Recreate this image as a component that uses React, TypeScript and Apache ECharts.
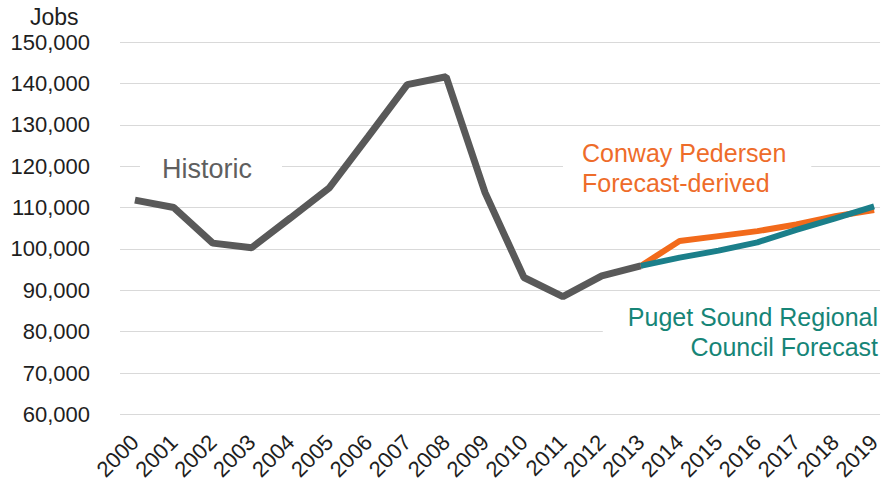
import React, { useEffect, useRef } from "react";
import * as echarts from "echarts";

// Years on the horizontal axis
const years = [
  2000, 2001, 2002, 2003, 2004, 2005, 2006, 2007, 2008, 2009,
  2010, 2011, 2012, 2013, 2014, 2015, 2016, 2017, 2018, 2019,
];

// Historic jobs, 2000–2013
const historic = [
  111800, 110000, 101400, 100300, 107500, 114800, 127200,
  139700, 141600, 113600, 93100, 88500, 93500, 95900,
];

// Forecasts, 2013–2019
const forecastYears = [2013, 2014, 2015, 2016, 2017, 2018, 2019];
const conwayPedersen = [95900, 101900, 103100, 104300, 105900, 107900, 109400];
const psrc = [95900, 97900, 99600, 101600, 104600, 107400, 110300];

const yTicks = { min: 60000, max: 150000, step: 10000 };

const FONT = "Arial, 'Liberation Sans', Helvetica, sans-serif";
const GRAY = "#595959";
const ORANGE = "#F26A1B";
const TEAL = "#1B7F8A";

const pairs = (xs: number[], ys: number[]) => ys.map((v, i) => [xs[i], v]);

export default function App() {
  const ref = useRef<HTMLDivElement>(null);

  useEffect(() => {
    if (!ref.current) return;
    const chart = echarts.init(ref.current, null, { renderer: "svg" });
    chart.setOption({
      animation: false,
      backgroundColor: "#ffffff",
      grid: { left: 120, right: 0, top: 42, bottom: 67, containLabel: false },
      xAxis: {
        type: "value",
        min: 1999.616,
        max: 2019.153,
        axisLine: { show: false },
        axisTick: { show: false },
        splitLine: { show: false },
        axisLabel: {
          customValues: years,
          rotate: 45,
          margin: 24,
          fontSize: 22,
          color: "#1e1e1e",
          fontFamily: FONT,
          formatter: (v: number) => String(v),
        },
      },
      yAxis: {
        type: "value",
        min: yTicks.min,
        max: yTicks.max,
        interval: yTicks.step,
        axisLine: { show: false },
        axisTick: { show: false },
        splitLine: { lineStyle: { color: "#d9d9d9", width: 1 } },
        axisLabel: {
          margin: 30,
          fontSize: 22,
          color: "#1e1e1e",
          fontFamily: FONT,
          formatter: (v: number) => v.toLocaleString("en-US"),
        },
      },
      graphic: [
        {
          type: "text",
          left: 30,
          top: 5,
          style: { text: "Jobs", fontSize: 23, fill: "#1e1e1e", fontFamily: FONT },
        },
        {
          type: "text",
          x: 140,
          y: 168.5,
          z: 1,
          style: {
            text: "Historic",
            fontSize: 27,
            fill: "#5f5f5f",
            fontFamily: FONT,
            textAlign: "left",
            textVerticalAlign: "middle",
            backgroundColor: "#ffffff",
            padding: [8, 30, 8, 22],
          },
        },
        {
          type: "text",
          x: 563,
          y: 134,
          z: 1,
          style: {
            text: "Conway Pedersen\nForecast-derived",
            fontSize: 25,
            lineHeight: 30,
            fill: "#EE6C2A",
            fontFamily: FONT,
            textAlign: "left",
            textVerticalAlign: "top",
            backgroundColor: "#ffffff",
            padding: [4, 25, 2, 19],
          },
        },
        {
          type: "text",
          x: 884,
          y: 297.5,
          z: 1,
          style: {
            text: "Puget Sound Regional\nCouncil Forecast",
            fontSize: 25,
            lineHeight: 30,
            fill: "#168577",
            fontFamily: FONT,
            textAlign: "right",
            textVerticalAlign: "top",
            backgroundColor: "#ffffff",
            padding: [4, 6, 4, 25],
          },
        },
      ],
      series: [
        {
          name: "Historic",
          type: "line",
          data: pairs(years, historic),
          showSymbol: false,
          lineStyle: { color: GRAY, width: 7 },
          z: 3,
        },
        {
          name: "Conway Pedersen Forecast-derived",
          type: "line",
          data: pairs(forecastYears, conwayPedersen),
          showSymbol: false,
          lineStyle: { color: ORANGE, width: 6 },
          z: 2,
        },
        {
          name: "Puget Sound Regional Council Forecast",
          type: "line",
          data: pairs(forecastYears, psrc),
          showSymbol: false,
          lineStyle: { color: TEAL, width: 6 },
          z: 2,
        },
      ],
    });
    return () => chart.dispose();
  }, []);

  return (
    <div
      ref={ref}
      style={{ position: "fixed", left: 0, top: 0, width: 884, height: 483, background: "#fff" }}
    />
  );
}
